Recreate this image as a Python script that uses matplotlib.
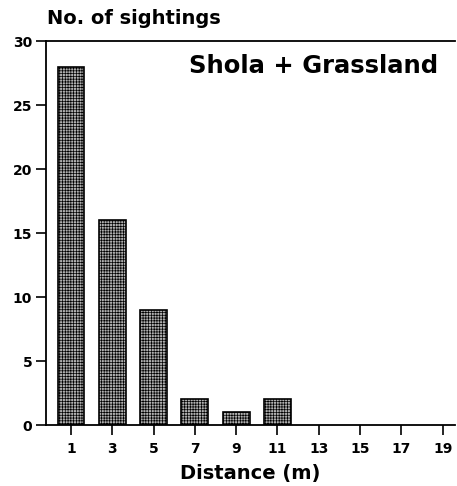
import matplotlib
matplotlib.use("Agg")
from matplotlib import pyplot as plt

distance = [1, 3, 5, 7, 9, 11, 13, 15, 17, 19]
sightings = [28, 16, 9, 2, 1, 2, 0, 0, 0, 0]
y_ticks = [0, 5, 10, 15, 20, 25, 30]

plt.rcParams['font.family'] = ['DejaVu Sans']
plt.rcParams['font.weight'] = 'bold'
plt.rcParams['hatch.linewidth'] = 0.5

fig = plt.figure(figsize=(4.57, 4.86), dpi=100)
ax = fig.add_axes([0.101, 0.1255, 0.894, 0.790])

ax.bar(distance[:6], sightings[:6], width=1.3, facecolor='#b0b0b0',
       edgecolor='black', hatch='++++++', linewidth=1.2)

ax.set_xlim(-0.2, 19.58)
ax.set_ylim(0, 30)
ax.set_xticks(distance)
ax.set_xticklabels([str(d) for d in distance], fontsize=10, fontweight='bold')
ax.set_yticks(y_ticks)
ax.set_yticklabels([str(t) for t in y_ticks], fontsize=10, fontweight='bold')
ax.tick_params(axis='both', direction='out', length=7, width=1.2)
ax.tick_params(axis='x', pad=5)
ax.tick_params(axis='y', pad=3)

ax.spines['right'].set_visible(False)
for s in ['left', 'top', 'bottom']:
  ax.spines[s].set_linewidth(1.3)

ax.set_xlabel("Distance (m)", fontsize=14, fontweight='bold', labelpad=6)
fig.text(0.103, 0.962, "No. of sightings", fontsize=14, fontweight='bold', va='center')
ax.text(0.96, 0.935, "Shola + Grassland", transform=ax.transAxes, fontsize=17.5,
        fontweight='bold', ha='right', va='center')

fig.savefig("out.png", dpi=100)
